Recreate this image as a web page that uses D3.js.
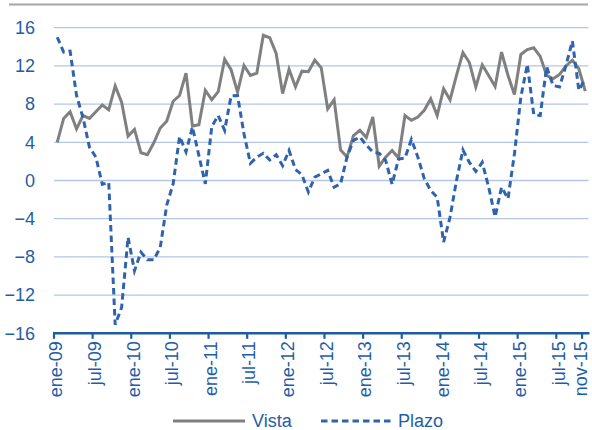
<!DOCTYPE html>
<html>
<head>
<meta charset="utf-8">
<script src="https://cdn.jsdelivr.net/npm/d3@7"></script>
<style>
  html, body { margin: 0; padding: 0; background: #fff; }
  svg { display: block; }
  text { font-family: "Liberation Sans", Arial, sans-serif; }
</style>
</head>
<body>
<svg id="chart" width="592" height="430"></svg>
<script>
// ---- data ----
const monthNames = ["ene","feb","mar","abr","may","jun","jul","ago","sep","oct","nov","dic"];
const years = ["09","10","11","12","13","14","15"];
const categories = [];
years.forEach(y => monthNames.forEach(m => categories.push(m + "-" + y)));
categories.splice(83); // ene-09 ... nov-15

const vista = [
  4.0, 6.5, 7.2, 5.4, 6.8, 6.5, 7.2, 7.9, 7.4, 9.9, 8.2, 4.65,
  5.35, 2.9, 2.7, 3.95, 5.5, 6.2, 8.3, 8.9, 11.25, 5.7, 5.85, 9.45,
  8.45, 9.3, 12.7, 11.6, 9.25, 12.05, 11.0, 11.25, 15.2, 14.95, 13.3, 9.1,
  11.65, 9.8, 11.45, 11.4, 12.6, 11.8, 7.5, 8.45, 3.2, 2.45, 4.7, 5.25,
  4.5, 6.65, 1.5, 2.45, 3.15, 2.35, 6.8, 6.3, 6.65, 7.35, 8.55, 6.8,
  9.6, 8.45, 11.0, 13.4, 12.35, 9.8, 12.1, 11.0, 9.85, 13.45, 11.0, 9.0,
  13.2, 13.7, 13.9, 13.0, 11.0, 10.65, 11.1, 12.0, 12.6, 11.7, 9.35
];
const plazo = [
  15.0, 13.45, 13.55, 8.9, 6.6, 3.5, 2.45, -0.4, -0.2, -15.1, -13.3, -5.95,
  -9.45, -7.5, -8.3, -8.3, -7.0, -2.6, -0.35, 4.6, 3.0, 5.6, 2.6, -0.35,
  5.65, 6.8, 5.25, 8.85, 8.9, 4.9, 1.8, 2.45, 2.85, 2.15, 2.7, 1.55,
  3.15, 1.15, 0.6, -1.2, 0.35, 0.7, 1.05, -0.7, -0.35, 2.45, 4.2, 4.55,
  3.7, 3.0, 2.85, 2.1, -0.4, 2.25, 2.35, 4.3, 2.45, 0.2, -1.05, -1.75,
  -6.45, -3.85, 0.0, 3.2, 1.9, 0.95, 1.9, -0.7, -3.8, -0.7, -1.9, 2.8,
  8.75, 12.15, 6.9, 6.8, 11.9, 9.95, 9.8, 12.05, 14.6, 9.45, 10.65
];
const yTicks = [16, 12, 8, 4, 0, -4, -8, -12, -16];
const xTickLabels = ["ene-09","jul-09","ene-10","jul-10","ene-11","jul-11","ene-12","jul-12",
                     "ene-13","jul-13","ene-14","jul-14","ene-15","jul-15","nov-15"];
const seriesNames = ["Vista", "Plazo"];

// ---- layout ----
const svg = d3.select("#chart");
const textColor = "#1f5ea6";
const axisColor = "#1f5c9e";
const gridColor = "#b4c6e7";
const vistaColor = "#808080";
const plazoColor = "#2f64ad";

const x = d3.scaleBand().domain(categories).range([54, 588.5]).padding(0);
const y = d3.scaleLinear().domain([-16, 16]).range([333.3, 27.7]);
const xc = d => x(d) + x.bandwidth() / 2;

// top border line
svg.append("line").attr("x1", 9).attr("x2", 588).attr("y1", 4.5).attr("y2", 4.5)
  .attr("stroke", "#a6a6a6").attr("stroke-width", 2);

// gridlines
svg.append("g").selectAll("line").data(yTicks.filter(t => t !== -16)).join("line")
  .attr("x1", 54).attr("x2", 588.5)
  .attr("y1", d => y(d)).attr("y2", d => y(d))
  .attr("stroke", gridColor).attr("stroke-width", 1.3);

// y axis labels
const yAxis = d3.axisLeft(y).tickValues(yTicks).tickSize(0).tickPadding(0).tickFormat(d3.format("d"));
const gy = svg.append("g").attr("transform", "translate(35,0)").call(yAxis);
gy.select(".domain").remove();
gy.selectAll("text").attr("fill", textColor).attr("font-size", 18)
  .attr("font-family", "'Liberation Sans', Arial, sans-serif");

// x axis: ticks at band left edges
const tickCats = xTickLabels;
const gx = svg.append("g");
gx.append("line").attr("x1", 53).attr("x2", 589.5).attr("y1", y(-16)).attr("y2", y(-16))
  .attr("stroke", axisColor).attr("stroke-width", 2.6);
gx.selectAll("line.tick").data(tickCats).join("line").attr("class", "tick")
  .attr("x1", d => x(d)).attr("x2", d => x(d))
  .attr("y1", y(-16)).attr("y2", y(-16) + 5.5)
  .attr("stroke", axisColor).attr("stroke-width", 2.2);
gx.selectAll("text").data(tickCats).join("text")
  .attr("transform", d => `translate(${Math.min(xc(d), 582)},${y(-16) + 8}) rotate(-90)`)
  .attr("text-anchor", "end").attr("dy", "0.28em")
  .attr("fill", textColor).attr("font-size", 18)
  .text(d => d);

// lines
const line = d3.line().x((d, i) => xc(categories[i])).y(d => y(d));
svg.append("path").datum(vista).attr("d", line)
  .attr("fill", "none").attr("stroke", vistaColor).attr("stroke-width", 3)
  .attr("stroke-linejoin", "miter");
svg.append("path").datum(plazo).attr("d", line)
  .attr("fill", "none").attr("stroke", plazoColor).attr("stroke-width", 3)
  .attr("stroke-dasharray", "6.5,4");

// legend
const legY = 421;
const leg = svg.append("g");
leg.append("line").attr("x1", 173).attr("x2", 245).attr("y1", legY).attr("y2", legY)
  .attr("stroke", vistaColor).attr("stroke-width", 3);
leg.append("text").attr("x", 252).attr("y", legY).attr("dy", "0.35em")
  .attr("fill", textColor).attr("font-size", 18).text(seriesNames[0]);
leg.append("line").attr("x1", 321).attr("x2", 392).attr("y1", legY).attr("y2", legY)
  .attr("stroke", plazoColor).attr("stroke-width", 3).attr("stroke-dasharray", "6.5,4");
leg.append("text").attr("x", 398).attr("y", legY).attr("dy", "0.35em")
  .attr("fill", textColor).attr("font-size", 18).text(seriesNames[1]);
</script>
</body>
</html>
